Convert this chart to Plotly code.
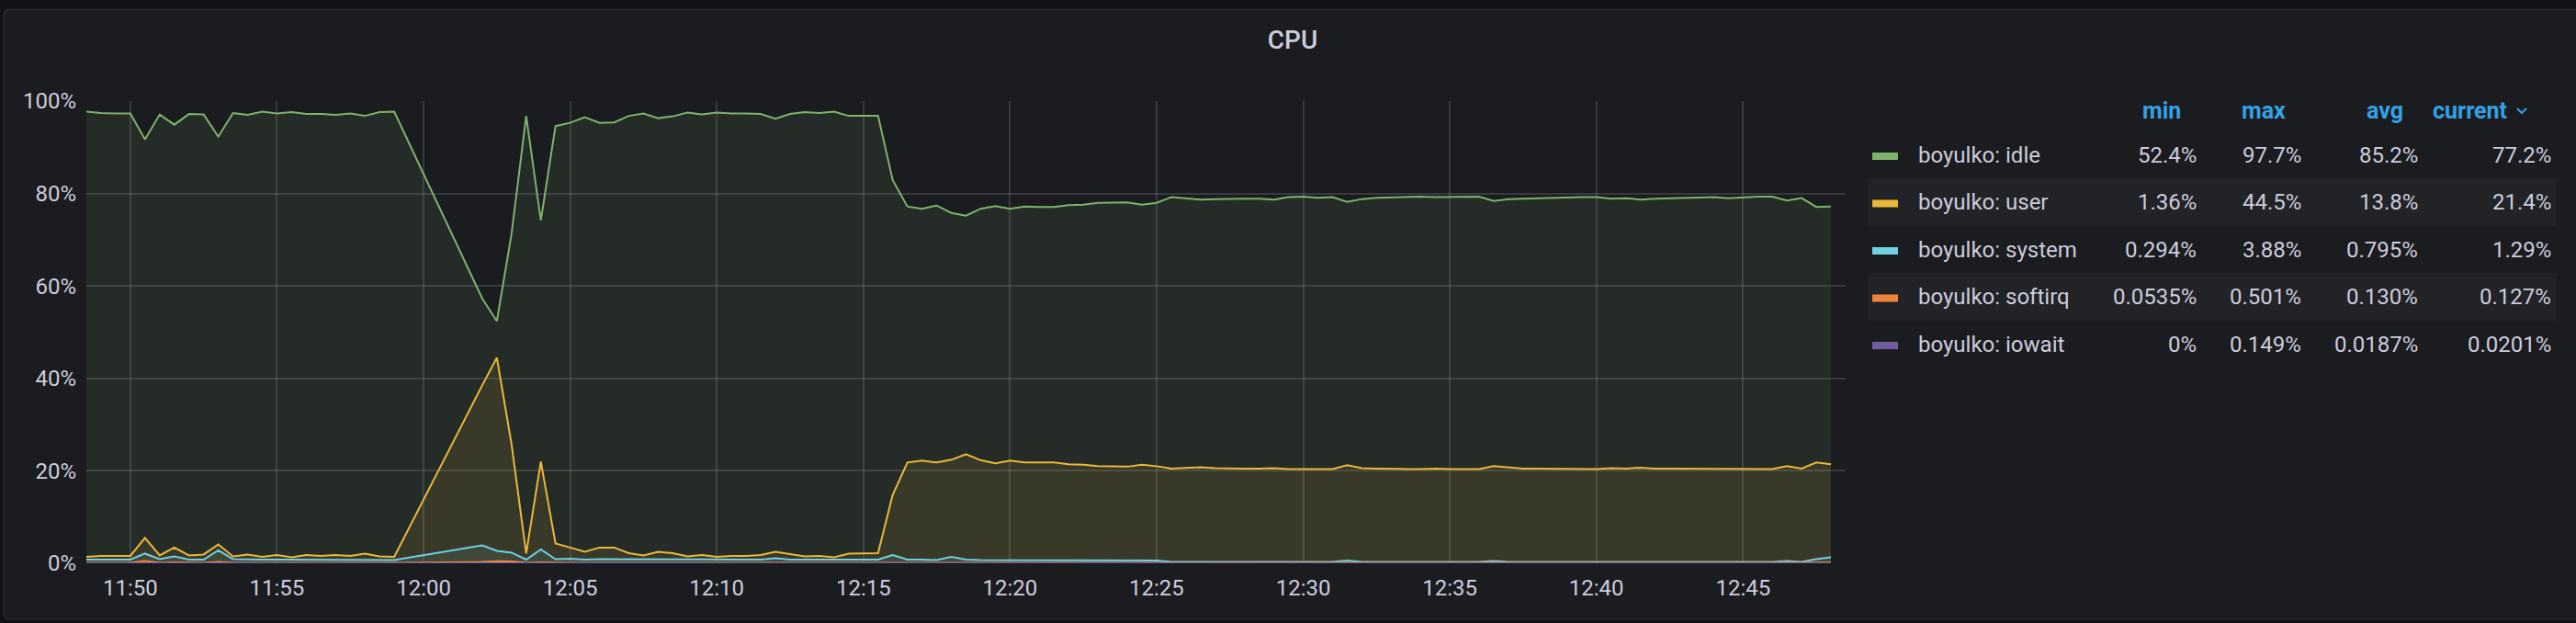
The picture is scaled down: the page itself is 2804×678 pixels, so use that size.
import plotly.graph_objects as go
import pandas as pd

# ---------------- data ----------------
DAY = "2021-06-01 "
SEG_A = (DAY + "11:48:30", DAY + "11:59:00")   # 30 s samples
SEG_B = (DAY + "12:02:00", DAY + "12:48:00")   # 30 s samples (gap in between)
times = list(pd.date_range(SEG_A[0], SEG_A[1], freq="30s")) + \
        list(pd.date_range(SEG_B[0], SEG_B[1], freq="30s"))

idle = [
    97.7, 97.4, 97.3, 97.3, 91.7, 97.1, 94.9, 97.2, 97.1, 92.3, 97.4,
    97.0, 97.7, 97.3, 97.6, 97.2, 97.2, 97.0, 97.3, 96.8, 97.6, 97.7,
    # 12:02:00 ->
    57.3, 52.4, 71.2, 96.8, 74.2, 94.6,
    95.3, 96.5, 95.3, 95.4, 96.8, 97.3, 96.3, 96.7, 97.5, 97.1,
    97.5, 97.3, 97.3, 97.2, 96.2, 97.2, 97.6, 97.4, 97.7, 96.8,
    96.8, 96.8, 82.9, 77.2, 76.7, 77.4, 75.8, 75.2, 76.7, 77.3,
    76.7, 77.2, 77.1, 77.1, 77.5, 77.6, 78.0, 78.1, 78.1, 77.6,
    78.0, 79.2, 78.9, 78.7, 78.8, 78.9, 78.9, 78.9, 78.7, 79.2,
    79.3, 79.1, 79.2, 78.2, 78.8, 79.1, 79.2, 79.3, 79.3, 79.2,
    79.2, 79.2, 79.3, 78.4, 78.8, 78.9, 79.0, 79.0, 79.1, 79.2,
    79.2, 78.9, 79.0, 78.7, 78.9, 79.0, 79.1, 79.2, 79.2, 79.0,
    79.2, 79.3, 79.3, 78.5, 79.0, 77.1, 77.2,
]
user = [
    1.4, 1.6, 1.6, 1.6, 5.5, 1.7, 3.4, 1.7, 1.9, 4.1, 1.5,
    1.9, 1.4, 1.8, 1.3, 1.8, 1.6, 1.8, 1.6, 2.1, 1.5, 1.4,
    # 12:02:00 ->
    38.5, 44.5, 25.8, 2.1, 22.0, 4.3,
    3.4, 2.5, 3.4, 3.4, 2.2, 1.7, 2.5, 2.2, 1.5, 1.8,
    1.4, 1.6, 1.6, 1.8, 2.5, 2.0, 1.5, 1.6, 1.3, 2.1,
    2.2, 2.2, 14.8, 21.8, 22.2, 21.8, 22.4, 23.6, 22.3, 21.6,
    22.2, 21.8, 21.8, 21.8, 21.4, 21.3, 21.0, 20.9, 20.9, 21.3,
    21.0, 20.5, 20.6, 20.8, 20.6, 20.5, 20.5, 20.5, 20.6, 20.4,
    20.4, 20.5, 20.4, 21.2, 20.6, 20.5, 20.4, 20.4, 20.4, 20.5,
    20.4, 20.4, 20.4, 21.0, 20.7, 20.5, 20.5, 20.5, 20.5, 20.4,
    20.4, 20.6, 20.5, 20.7, 20.5, 20.5, 20.5, 20.4, 20.4, 20.5,
    20.5, 20.4, 20.4, 21.0, 20.5, 21.8, 21.4,
]
system = [
    0.8, 0.8, 0.8, 0.8, 2.1, 0.9, 1.5, 0.8, 0.8, 2.8, 0.9,
    0.8, 0.8, 0.8, 0.8, 0.8, 0.8, 0.8, 0.8, 0.8, 0.7, 0.7,
    # 12:02:00 ->
    3.88, 2.7, 2.3, 0.8, 3.0, 0.9,
    1.0, 0.8, 0.9, 0.9, 0.8, 0.8, 0.8, 0.8, 0.8, 0.8,
    0.8, 0.8, 0.8, 0.8, 1.1, 0.8, 0.8, 0.8, 0.8, 0.8,
    0.8, 0.8, 1.8, 0.8, 0.8, 0.7, 1.4, 0.8, 0.7, 0.7,
    0.7, 0.7, 0.7, 0.7, 0.7, 0.7, 0.6, 0.6, 0.6, 0.6,
    0.6, 0.3, 0.3, 0.3, 0.3, 0.3, 0.3, 0.3, 0.3, 0.3,
    0.3, 0.3, 0.3, 0.6, 0.3, 0.3, 0.3, 0.3, 0.3, 0.3,
    0.3, 0.3, 0.3, 0.5, 0.3, 0.3, 0.3, 0.3, 0.3, 0.3,
    0.3, 0.3, 0.3, 0.4, 0.3, 0.3, 0.3, 0.3, 0.3, 0.3,
    0.3, 0.3, 0.3, 0.5, 0.3, 0.9, 1.29,
]
softirq = [
    0.10, 0.10, 0.10, 0.10, 0.50, 0.10, 0.20, 0.10, 0.10, 0.30, 0.10,
    0.10, 0.10, 0.10, 0.10, 0.10, 0.10, 0.10, 0.10, 0.10, 0.10, 0.10,
    # 12:02:00 ->
    0.30, 0.45, 0.40, 0.10, 0.20, 0.12,
    0.12, 0.12, 0.12, 0.12, 0.12, 0.12, 0.12, 0.12, 0.12, 0.12,
    0.12, 0.12, 0.12, 0.12, 0.15, 0.12, 0.12, 0.12, 0.12, 0.12,
    0.12, 0.12, 0.20, 0.13, 0.13, 0.13, 0.15, 0.13, 0.13, 0.13,
    0.13, 0.13, 0.13, 0.13, 0.13, 0.13, 0.13, 0.13, 0.13, 0.13,
    0.13, 0.12, 0.12, 0.12, 0.12, 0.12, 0.12, 0.12, 0.12, 0.12,
    0.12, 0.12, 0.12, 0.14, 0.12, 0.12, 0.12, 0.12, 0.12, 0.12,
    0.12, 0.12, 0.12, 0.14, 0.12, 0.12, 0.12, 0.12, 0.12, 0.12,
    0.12, 0.12, 0.12, 0.13, 0.12, 0.12, 0.12, 0.12, 0.12, 0.12,
    0.12, 0.12, 0.12, 0.13, 0.12, 0.13, 0.127,
]
iowait = [
    0.02, 0.02, 0.02, 0.02, 0.05, 0.02, 0.02, 0.02, 0.02, 0.03, 0.02,
    0.02, 0.02, 0.02, 0.02, 0.02, 0.02, 0.02, 0.02, 0.02, 0.02, 0.02,
    # 12:02:00 ->
    0.10, 0.149, 0.08, 0.02, 0.05, 0.02,
] + [0.02] * 86 + [0.0201]

series_names = ["boyulko: idle", "boyulko: user", "boyulko: system",
                "boyulko: softirq", "boyulko: iowait"]
series_values = [idle, user, system, softirq, iowait]
series_colors = ["#7EB26D", "#EAB839", "#6ED0E0", "#EF843C", "#705DA0"]
series_fills = ["rgba(126,178,109,0.10)", "rgba(234,184,57,0.10)",
                "rgba(110,208,224,0.10)", "rgba(239,132,60,0.10)",
                "rgba(112,93,160,0.10)"]

stat_headers = ["min", "max", "avg", "current"]
stat_min = ["52.4%", "1.36%", "0.294%", "0.0535%", "0%"]
stat_max = ["97.7%", "44.5%", "3.88%", "0.501%", "0.149%"]
stat_avg = ["85.2%", "13.8%", "0.795%", "0.130%", "0.0187%"]
stat_cur = ["77.2%", "21.4%", "1.29%", "0.127%", "0.0201%"]

x_range = [DAY + "11:48:30", DAY + "12:48:30"]
x_tick0 = DAY + "11:50:00"

# ---------------- layout geometry (pixels) ----------------
W, H = 2804, 678
PL, PR, PT, PB = 94, 2009, 110, 613      # plot area edges

def px(X):
    return (X - PL) / (PR - PL)

def py(Y):
    return (PB - Y) / (PB - PT)

FONT = "Roboto, Inter, 'Open Sans', sans-serif"
TXT = "#ccccdc"
GRID = "rgba(204,204,220,0.17)"

fig = go.Figure()
for name, vals, col, fc in zip(series_names, series_values, series_colors, series_fills):
    fig.add_trace(go.Scatter(
        x=times, y=vals, name=name, mode="lines",
        line=dict(color=col, width=2), fill="tozeroy", fillcolor=fc,
        showlegend=False, hoverinfo="x+y+name",
    ))

shapes = []
# panel with rounded corners
x0, x1, y0, y1, r = 4, 2812, 10, 674, 7
path = (f"M {px(x0)},{py(y0 + r)} Q {px(x0)},{py(y0)} {px(x0 + r)},{py(y0)} "
        f"L {px(x1 - r)},{py(y0)} Q {px(x1)},{py(y0)} {px(x1)},{py(y0 + r)} "
        f"L {px(x1)},{py(y1 - r)} Q {px(x1)},{py(y1)} {px(x1 - r)},{py(y1)} "
        f"L {px(x0 + r)},{py(y1)} Q {px(x0)},{py(y1)} {px(x0)},{py(y1 - r)} Z")
shapes.append(dict(type="path", xref="paper", yref="paper", path=path,
                   fillcolor="#1b1c20", line=dict(color="rgba(204,204,220,0.10)", width=1.5),
                   layer="below"))

# legend table
ROW_Y = [168.5, 220, 271.5, 323, 374.5]
ROW_H = 51.5
COL_RIGHT = [2393, 2507, 2634, 2779]
HEAD_RIGHT = [2376, 2490, 2618, 2731]
annotations = []
for i, (name, col) in enumerate(zip(series_names, series_colors)):
    yc = ROW_Y[i]
    if i % 2 == 1:
        shapes.append(dict(type="rect", xref="paper", yref="paper",
                           x0=px(2034), x1=px(2783), y0=py(yc - ROW_H / 2), y1=py(yc + ROW_H / 2),
                           fillcolor="rgba(204,204,220,0.045)", line=dict(width=0), layer="below"))
    shapes.append(dict(type="rect", xref="paper", yref="paper",
                       x0=px(2038), x1=px(2066), y0=py(yc + 5.5), y1=py(yc - 2.5),
                       fillcolor=col, line=dict(width=0)))
    annotations.append(dict(xref="paper", yref="paper", x=px(2086), y=py(yc),
                            xanchor="left", yanchor="middle", showarrow=False,
                            text=name, font=dict(family=FONT, size=24, color=TXT)))
    for c, vals in enumerate([stat_min, stat_max, stat_avg, stat_cur]):
        annotations.append(dict(xref="paper", yref="paper", x=px(COL_RIGHT[c]), y=py(yc),
                                xanchor="right", yanchor="middle", showarrow=False,
                                text=vals[i], font=dict(family=FONT, size=24, color=TXT)))
for c, h in enumerate(stat_headers):
    annotations.append(dict(xref="paper", yref="paper", x=px(HEAD_RIGHT[c]), y=py(121),
                            xanchor="right", yanchor="middle", showarrow=False,
                            text=h, font=dict(family=FONT, size=25, color="#33A2E5", weight="bold")))
# sort chevron after "current"
shapes.append(dict(type="path", xref="paper", yref="paper",
                   path=f"M {px(2740)},{py(118)} L {px(2745)},{py(123)} L {px(2750)},{py(118)}",
                   line=dict(color="#33A2E5", width=2)))

fig.update_layout(
    width=W, height=H,
    margin=dict(l=PL, r=W - PR, t=PT, b=H - PB, pad=0),
    paper_bgcolor="#111217", plot_bgcolor="rgba(0,0,0,0)",
    title=dict(text="CPU", x=1407 / W, xref="container",
               xanchor="center", y=1 - 43 / H, yanchor="middle",
               font=dict(family=FONT, size=28, color=TXT, weight=500)),
    shapes=shapes, annotations=annotations,
    xaxis=dict(type="date", range=x_range, tick0=x_tick0, dtick=300000,
               tickformat="%H:%M", showgrid=True, gridcolor=GRID, gridwidth=1.5,
               zeroline=False, showline=False, ticks="", ticklabelstandoff=10,
               tickfont=dict(family=FONT, size=24, color=TXT)),
    yaxis=dict(range=[0, 100], dtick=20, ticksuffix="%", showgrid=True,
               gridcolor=GRID, gridwidth=1.5, zeroline=False, showline=False,
               ticks="", ticklabelstandoff=10,
               tickfont=dict(family=FONT, size=24, color=TXT)),
    hovermode="x",
)

fig.write_html(
    "out.html",
    config={"displayModeBar": False},
    post_script="document.body.style.margin='0';document.body.style.overflow='hidden';"
                "document.body.style.background='#111217';",
)
